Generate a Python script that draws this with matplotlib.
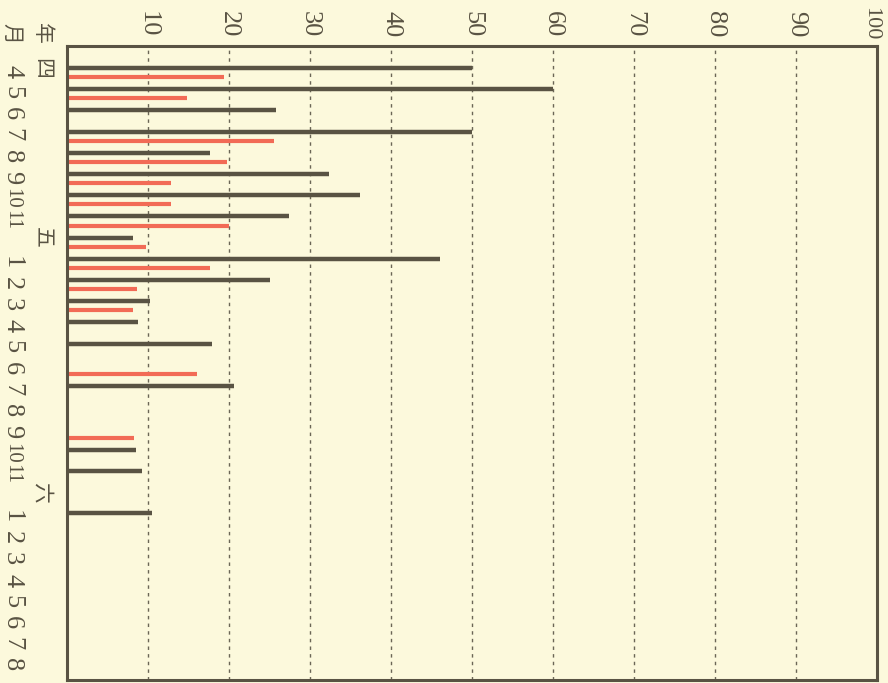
import numpy as np
import matplotlib
matplotlib.use("Agg")
import matplotlib.pyplot as plt
import matplotlib.transforms as mtransforms

# one slot per month, from 四年4月 to 六年8月 (month 12 slot carries the year mark)
month_labels = ["4", "5", "6", "7", "8", "9", "10", "11", "",
                "1", "2", "3", "4", "5", "6", "7", "8", "9", "10", "11", "",
                "1", "2", "3", "4", "5", "6", "7", "8"]
year_marks = {0: "四", 8: "五", 20: "六"}

nan = np.nan
black_vals = [50, 60, 25.8, 50, 17.6, 32.4, 36.2, 27.4, 8.2,
              46.0, 25.1, 10.2, 8.8, 17.9, nan, 20.6, nan, nan, 8.5, 9.2, nan,
              10.5, nan, nan, nan, nan, nan, nan, nan]
red_vals = [19.4, 14.8, nan, 25.5, 19.7, 12.9, 12.8, 20.0, 9.8,
            17.7, 8.7, 8.1, nan, nan, 16.0, nan, nan, 8.3, nan, nan, nan,
            nan, nan, nan, nan, nan, nan, nan, nan]
x_ticks = [10, 20, 30, 40, 50, 60, 70, 80, 90, 100]

bg = "#fcf9dc"
dark = "#595343"
red = "#f26b56"
cjk = ["Noto Sans CJK JP", "DejaVu Sans"]
serif = ["Liberation Serif", "DejaVu Serif"]

fig = plt.figure(figsize=(8.88, 6.83), dpi=100)
fig.patch.set_facecolor(bg)
ax = fig.add_axes([67 / 888, 3 / 683, 810 / 888, 634 / 683])
ax.set_facecolor(bg)

slots = np.arange(len(month_labels))
ax.hlines(slots - 0.21, 0, black_vals, color=dark, lw=3.2)
ax.hlines(slots + 0.22, 0, red_vals, color=red, lw=3)

# dashed guide lines
for t in x_ticks[:-1]:
    ax.axvline(t, color="#6b6656", lw=1, ls=(0, (2.5, 3)), zorder=0)

ax.set_xlim(0, 100)
ax.set_ylim(28.66, -1.25)
ax.xaxis.tick_top()
ax.set_xticks(x_ticks)
# last label is drawn by hand so it stays inside the picture
ax.set_xticklabels([str(t) for t in x_ticks[:-1]] + [""], rotation=-90,
                   fontsize=19, family=serif, color=dark)
ax.tick_params(axis="x", length=0, pad=6)
ax.set_yticks([])
for s in ax.spines.values():
    s.set_color(dark)
    s.set_linewidth(2.2)

top_tr = mtransforms.blended_transform_factory(ax.transData, ax.transAxes)
ax.text(99.2, 1 + 6 / 634, str(x_ticks[-1]), transform=top_tr, rotation=-90,
        ha="center", va="bottom", fontsize=16, family=serif, color=dark,
        clip_on=False)

# month and year columns to the left of the frame
tr = mtransforms.blended_transform_factory(fig.transFigure, ax.transData)
for i, lab in enumerate(month_labels):
    if lab:
        fs = 15 if len(lab) > 1 else 19
        ax.text(12 / 888, i - 0.05, lab, transform=tr, rotation=-90,
                ha="center", va="center", fontsize=fs, family=serif,
                color=dark)
for i, lab in year_marks.items():
    ax.text(42 / 888, i - 0.2, lab, transform=tr, rotation=-90,
            ha="center", va="center", fontsize=15, family=cjk, color=dark)

fig.text(42 / 888, 1 - 33 / 683, "年", rotation=-90, ha="center",
         va="center", fontsize=15, family=cjk, color=dark)
fig.text(12 / 888, 1 - 33 / 683, "月", rotation=-90, ha="center",
         va="center", fontsize=15, family=cjk, color=dark)

fig.savefig("out.png", dpi=100, facecolor=bg)
